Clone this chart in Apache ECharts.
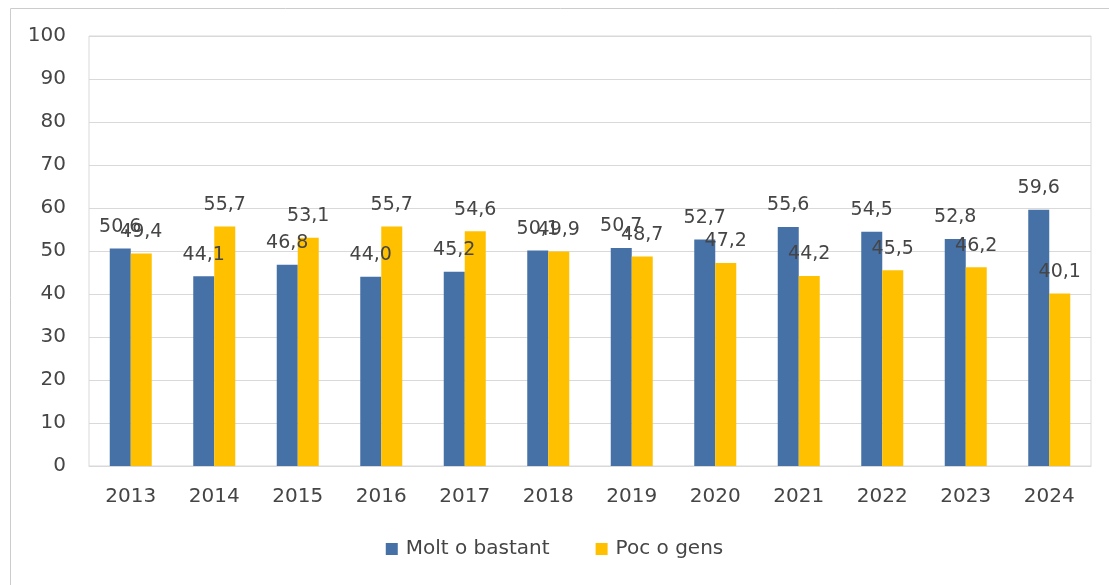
<!DOCTYPE html>
<html>
<head>
<meta charset="utf-8">
<script src="https://cdn.jsdelivr.net/npm/echarts@6/dist/echarts.min.js"></script>
<style>
  html, body { margin: 0; padding: 0; background: #fff; }
  #main { width: 1109px; height: 585px; }
</style>
</head>
<body>
<div id="main"></div>
<script>
// dades
var years = ['2013', '2014', '2015', '2016', '2017', '2018', '2019', '2020', '2021', '2022', '2023', '2024'];
var molt = [50.6, 44.1, 46.8, 44.0, 45.2, 50.1, 50.7, 52.7, 55.6, 54.5, 52.8, 59.6];
var poc = [49.4, 55.7, 53.1, 55.7, 54.6, 49.9, 48.7, 47.2, 44.2, 45.5, 46.2, 40.1];
var seriesNames = ['Molt o bastant', 'Poc o gens'];

var font = '"DejaVu Sans", sans-serif';
var textColor = '#454545';

var myChart = echarts.init(document.getElementById('main'));

var labelStyle = {
  show: true,
  position: 'top',
  distance: 12,
  color: textColor,
  fontFamily: font,
  fontSize: 19,
  formatter: function (p) {
    return p.value.toFixed(1).replace('.', ',');
  }
};

myChart.setOption({
  animation: false,
  textStyle: { fontFamily: font },
  graphic: [{
    type: 'rect',
    left: 8,
    top: 6,
    shape: { width: 1200, height: 700 },
    style: { fill: 'none', stroke: '#cccccc', lineWidth: 1 },
    silent: true
  }],
  grid: {
    show: true,
    left: 89,
    right: 18,
    top: 36,
    bottom: 119,
    borderColor: '#d9d9d9',
    borderWidth: 1,
    backgroundColor: 'transparent'
  },
  legend: {
    bottom: 21,
    left: 'center',
    itemWidth: 12,
    itemHeight: 12,
    itemGap: 46,
    icon: 'rect',
    textStyle: { color: textColor, fontSize: 20, fontFamily: font, padding: [0, 0, 0, 3] },
    data: seriesNames
  },
  xAxis: {
    type: 'category',
    data: years,
    axisLine: { show: true, lineStyle: { color: '#d9d9d9' } },
    axisTick: { show: false },
    axisLabel: { color: textColor, fontSize: 20, margin: 21, fontFamily: font }
  },
  yAxis: {
    type: 'value',
    min: 0,
    max: 100,
    interval: 10,
    axisLine: { show: false },
    axisTick: { show: false },
    axisLabel: { color: textColor, fontSize: 20, margin: 23, fontFamily: font },
    splitLine: { show: true, lineStyle: { color: '#d9d9d9', width: 1 } }
  },
  series: [{
    name: seriesNames[0],
    type: 'bar',
    data: molt,
    barWidth: 21,
    barGap: '0%',
    itemStyle: { color: '#4671A7' },
    label: labelStyle
  }, {
    name: seriesNames[1],
    type: 'bar',
    data: poc,
    barWidth: 21,
    barGap: '0%',
    itemStyle: { color: '#FFC000' },
    label: labelStyle
  }]
});
</script>
</body>
</html>
